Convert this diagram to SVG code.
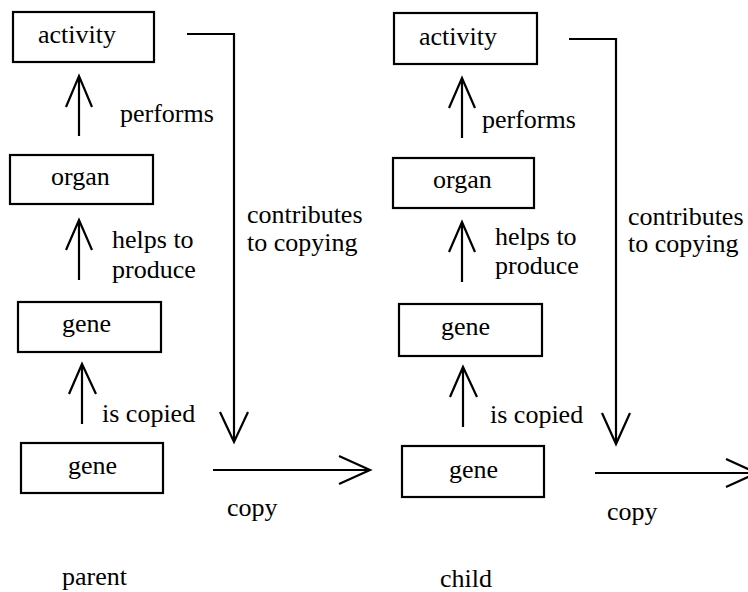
<svg xmlns="http://www.w3.org/2000/svg" width="748" height="592" viewBox="0 0 748 592">
<style>
.box{fill:#fff;stroke:#000;stroke-width:2.2}
.t{font-family:'Liberation Serif','Times New Roman',Times,serif;font-size:26px;fill:#000}
.ln{fill:none;stroke:#000;stroke-width:2.2}
</style>
<rect x="0" y="0" width="748" height="592" fill="#fff"/>
<g id="connectors">
  <g id="e-performs-l"><path class="ln" d="M79,136 V76 M66,107 L79,76 L92,107"/><text class="t" x="120" y="122">performs</text></g>
  <g id="e-helps-l"><path class="ln" d="M79,280 V220 M66,250 L79,220 L92,250"/><text class="t" x="112" y="248">helps to</text><text class="t" x="112" y="278">produce</text></g>
  <g id="e-copied-l"><path class="ln" d="M82,424 V364 M69,394 L82,364 L96,394"/><text class="t" x="102" y="422">is copied</text></g>
  <g id="e-contrib-l"><path class="ln" d="M187,34 H234 V442 M220,412 L234,442 L248,412"/><text class="t" x="247" y="223">contributes</text><text class="t" x="247" y="251">to copying</text></g>
  <g id="e-copy-l"><path class="ln" d="M213,470 H370 M339,456 L370,470 L339,484"/><text class="t" x="227" y="516">copy</text></g>
  <g id="e-performs-r"><path class="ln" d="M462,138 V78 M449,108 L462,78 L475,108"/><text class="t" x="482" y="128">performs</text></g>
  <g id="e-helps-r"><path class="ln" d="M462,282 V222 M449,252 L462,222 L475,252"/><text class="t" x="495" y="245">helps to</text><text class="t" x="495" y="274">produce</text></g>
  <g id="e-copied-r"><path class="ln" d="M463,427 V367 M450,397 L463,367 L477,397"/><text class="t" x="490" y="423">is copied</text></g>
  <g id="e-contrib-r"><path class="ln" d="M569,39 H616 V444 M602,413 L616,444 L630,413"/><text class="t" x="628" y="225">contributes</text><text class="t" x="628" y="252">to copying</text></g>
  <g id="e-copy-r"><path class="ln" d="M595,473 H757 M726,459 L757,473 L726,487"/><text class="t" x="607" y="520">copy</text></g>
</g>
<g id="activity-parent"><rect class="box" x="13" y="12" width="141" height="50"/><text class="t" x="38" y="43">activity</text></g>
<g id="organ-parent"><rect class="box" x="10" y="155" width="143" height="49"/><text class="t" x="51" y="185">organ</text></g>
<g id="gene-parent-top"><rect class="box" x="18" y="302" width="143" height="50"/><text class="t" x="62" y="332">gene</text></g>
<g id="gene-parent-bottom"><rect class="box" x="21" y="443" width="142" height="50"/><text class="t" x="68" y="474">gene</text></g>
<g id="activity-child"><rect class="box" x="394" y="13" width="143" height="51"/><text class="t" x="419" y="45">activity</text></g>
<g id="organ-child"><rect class="box" x="393" y="158" width="141" height="50"/><text class="t" x="433" y="188">organ</text></g>
<g id="gene-child-top"><rect class="box" x="399" y="304" width="143" height="52"/><text class="t" x="441" y="335">gene</text></g>
<g id="gene-child-bottom"><rect class="box" x="402" y="446" width="142" height="51"/><text class="t" x="449" y="478">gene</text></g>
<g id="label-parent"><text class="t" x="62" y="585">parent</text></g>
<g id="label-child"><text class="t" x="440" y="587">child</text></g>
</svg>
